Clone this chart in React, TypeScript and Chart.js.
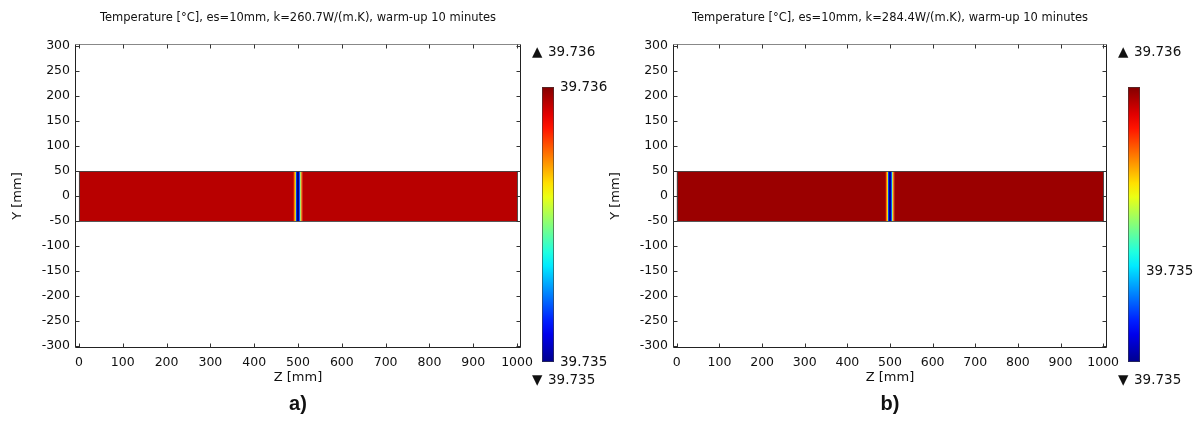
import React, { useEffect, useRef } from "react";
import { Chart, registerables } from "chart.js";

Chart.register(...registerables);

// ---- data ----
const Z_TICKS = [0, 100, 200, 300, 400, 500, 600, 700, 800, 900, 1000];
const Y_TICKS = [-300, -250, -200, -150, -100, -50, 0, 50, 100, 150, 200, 250, 300];
const SLAB_Y = [-50, 50];
// column edges along Z [mm] of the temperature field
const COL_EDGES = [0, 490, 492.5, 495, 497.5, 500, 502.5, 505, 507.5, 510, 1000];
// normalised temperature (0 = 39.735, 1 = 39.736) per column
const TEMP_A = [0.944, 0.8, 0.62, 0.18, 0.0, 0.0, 0.2, 0.55, 0.8, 0.944];
const TEMP_B = [0.974, 0.8, 0.62, 0.18, 0.0, 0.0, 0.2, 0.55, 0.8, 0.974];
const TITLE_A = "Temperature [°C], es=10mm, k=260.7W/(m.K), warm-up 10 minutes";
const TITLE_B = "Temperature [°C], es=10mm, k=284.4W/(m.K), warm-up 10 minutes";
const CB_MAX = "39.736";
const CB_MIN = "39.735";
const CB_LABELS_A = [1, 0];
const CB_TEXT_A = ["39.736", "39.735"];
const CB_LABELS_B = [0.33];
const CB_TEXT_B = ["39.735"];
const TAGS = ["a)", "b)"];

const FONT = "'DejaVu Sans', sans-serif";

const STOPS: [number, number[]][] = [
  [0, [0, 0, 140]],
  [0.12, [0, 0, 255]],
  [0.37, [0, 255, 255]],
  [0.62, [255, 255, 0]],
  [0.87, [255, 0, 0]],
  [1, [130, 0, 0]],
];
function jet(t: number): string {
  t = Math.max(0, Math.min(1, t));
  for (let i = 0; i < STOPS.length - 1; i++) {
    const [a, ca] = STOPS[i];
    const [b, cb] = STOPS[i + 1];
    if (t <= b) {
      const f = (t - a) / (b - a);
      const c = ca.map((v, k) => Math.round(v + (cb[k] - v) * f));
      return `rgb(${c[0]},${c[1]},${c[2]})`;
    }
  }
  return "rgb(130,0,0)";
}

type PanelProps = {
  left: number;
  width: number;
  padRight: number;
  temps: number[];
  title: string;
  cbPos: number[];
  cbText: string[];
  tag: string;
};

function Panel(p: PanelProps) {
  const ref = useRef<HTMLCanvasElement>(null);
  useEffect(() => {
    const canvas = ref.current!;
    const fieldPlugin = {
      id: "field",
      beforeDatasetsDraw(chart: any) {
        const { ctx, chartArea: ca } = chart;
        const xs = chart.scales.x;
        const ys = chart.scales.y;
        ctx.save();
        const yTop = ys.getPixelForValue(SLAB_Y[1]);
        const yBot = ys.getPixelForValue(SLAB_Y[0]);
        for (let i = 0; i < p.temps.length; i++) {
          const x0 = xs.getPixelForValue(COL_EDGES[i]);
          const x1 = xs.getPixelForValue(COL_EDGES[i + 1]);
          ctx.fillStyle = jet(p.temps[i]);
          ctx.fillRect(x0, yTop, x1 - x0 + 0.4, yBot - yTop);
        }
        ctx.strokeStyle = "rgba(70,70,70,0.9)";
        ctx.lineWidth = 1;
        const xa = xs.getPixelForValue(COL_EDGES[0]);
        const xb = xs.getPixelForValue(COL_EDGES[COL_EDGES.length - 1]);
        ctx.strokeRect(Math.round(xa) + 0.5, Math.round(yTop) + 0.5, Math.round(xb - xa), Math.round(yBot - yTop));

        // frame
        const L = Math.round(ca.left) + 0.5, R = Math.round(ca.right) - 0.5;
        const T = Math.round(ca.top) + 0.5, B = Math.round(ca.bottom) - 0.5;
        ctx.strokeStyle = "#888";
        ctx.beginPath(); ctx.moveTo(L, T); ctx.lineTo(R, T); ctx.stroke();
        ctx.strokeStyle = "#222";
        ctx.beginPath(); ctx.moveTo(L, T); ctx.lineTo(L, B); ctx.lineTo(R, B); ctx.lineTo(R, T); ctx.stroke();
        // inward ticks
        ctx.strokeStyle = "#333";
        ctx.beginPath();
        for (const v of Z_TICKS) {
          const x = Math.round(xs.getPixelForValue(v)) + 0.5;
          ctx.moveTo(x, B); ctx.lineTo(x, B - 4);
          ctx.moveTo(x, T); ctx.lineTo(x, T + 4);
        }
        for (const v of Y_TICKS) {
          const y = Math.round(ys.getPixelForValue(v)) + 0.5;
          ctx.moveTo(L, y); ctx.lineTo(L + 4, y);
          ctx.moveTo(R, y); ctx.lineTo(R - 4, y);
        }
        ctx.stroke();

        // title
        const cx = (ca.left + ca.right) / 2;
        ctx.fillStyle = "#111";
        ctx.font = `11.5px ${FONT}`;
        ctx.textAlign = "center";
        ctx.textBaseline = "middle";
        ctx.fillText(p.title, cx, 18);

        // colorbar
        const cbL = ca.right + 21, cbW = 12, cbT = 87, cbB = 362;
        const g = ctx.createLinearGradient(0, cbB, 0, cbT);
        for (let i = 0; i <= 20; i++) g.addColorStop(i / 20, jet(i / 20));
        ctx.fillStyle = g;
        ctx.fillRect(cbL, cbT, cbW, cbB - cbT);
        ctx.strokeStyle = "rgba(60,60,60,0.6)";
        ctx.strokeRect(cbL + 0.5, cbT + 0.5, cbW - 1, cbB - cbT - 1);
        ctx.fillStyle = "#111";
        ctx.font = `13.5px ${FONT}`;
        ctx.textAlign = "left";
        p.cbPos.forEach((t, i) => {
          const y = cbB - t * (cbB - cbT);
          ctx.fillText(p.cbText[i], cbL + cbW + 6, y);
        });
        ctx.fillText("▲", ca.right + 11, 52);
        ctx.fillText("▼", ca.right + 11, 380);
        ctx.fillText(CB_MAX, ca.right + 27, 52);
        ctx.fillText(CB_MIN, ca.right + 27, 380);

        // panel tag
        ctx.font = `bold 20px 'Liberation Sans', Arial, sans-serif`;
        ctx.textAlign = "center";
        ctx.fillText(p.tag, cx, 404);
        ctx.restore();
      },
    };

    const chart = new Chart(canvas, {
      type: "scatter",
      data: { datasets: [] },
      options: {
        animation: false,
        responsive: false,
        devicePixelRatio: 1,
        layout: { padding: { top: 44, right: p.padRight, bottom: 0, left: 0 } },
        plugins: { legend: { display: false }, tooltip: { enabled: false }, title: { display: false } },
        scales: {
          x: {
            type: "linear",
            min: -9,
            max: 1009,
            grid: { display: false, drawTicks: false },
            border: { display: false },
            afterBuildTicks: (s: any) => { s.ticks = Z_TICKS.map((v) => ({ value: v })); },
            afterFit: (s: any) => { s.height = 73; },
            ticks: { autoSkip: false, maxRotation: 0, padding: 7, color: "#111", font: { family: FONT, size: 12.5 }, callback: (v: any) => String(v) },
            title: { display: true, text: "Z [mm]", color: "#111", padding: { top: 0, bottom: 36 }, font: { family: FONT, size: 13 } },
          },
          y: {
            type: "linear",
            min: -304,
            max: 304,
            grid: { display: false, drawTicks: false },
            border: { display: false },
            afterBuildTicks: (s: any) => { s.ticks = Y_TICKS.map((v) => ({ value: v })); },
            afterFit: (s: any) => { s.width = 75; },
            ticks: { autoSkip: false, padding: 5, color: "#111", font: { family: FONT, size: 12.5 }, callback: (v: any) => String(v) },
            title: { display: true, text: "Y [mm]", color: "#111", padding: { top: 10, bottom: 0 }, font: { family: FONT, size: 13 } },
          },
        },
      },
      plugins: [fieldPlugin],
    } as any);
    return () => chart.destroy();
  }, []);
  return (
    <canvas
      ref={ref}
      width={p.width}
      height={421}
      style={{ position: "absolute", left: p.left, top: 0, display: "block", width: p.width, height: 421 }}
    />
  );
}

export default function App() {
  return (
    <div style={{ position: "absolute", left: 0, top: 0, width: 1197, height: 421, background: "#fff", overflow: "hidden" }}>
      <Panel left={0} width={625} padRight={104} temps={TEMP_A} title={TITLE_A} cbPos={CB_LABELS_A} cbText={CB_TEXT_A} tag={TAGS[0]} />
      <Panel left={598} width={599} padRight={90} temps={TEMP_B} title={TITLE_B} cbPos={CB_LABELS_B} cbText={CB_TEXT_B} tag={TAGS[1]} />
    </div>
  );
}
